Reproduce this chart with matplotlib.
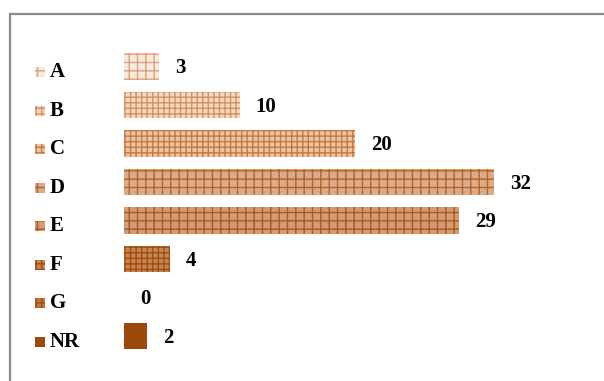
import matplotlib.pyplot as plt
from matplotlib.patches import Rectangle
from matplotlib.transforms import blended_transform_factory

categories = ["A", "B", "C", "D", "E", "F", "G", "NR"]
counts = [3, 10, 20, 32, 29, 4, 0, 2]

# fill, hatch pattern and hatch colour for each category
faces = ["#F8E9DE", "#F2D7C3", "#EAC5A8", "#DCAA86", "#D49C73", "#C98550", "#BF7540", "#9C4A0C"]
hatches = ["++", "+++", "+++", "++", "++", "+++", "+++", ""]
lines = ["#DDA27C", "#D6915F", "#C9793F", "#B2642B", "#A85A22", "#9E4E15", "#9E4E15", "#9C4A0C"]

W, H = 604, 381
fig = plt.figure(figsize=(W / 100, H / 100), dpi=100)
ax = fig.add_axes([124 / W, 1 - 355.25 / H, 474 / W, 308 / H])
ax.set_xlim(0, 41)
ax.set_ylim(len(categories) - 0.5, -0.5)
ax.axis("off")

serif = ["Liberation Serif", "DejaVu Serif"]

for i, (cat, v) in enumerate(zip(categories, counts)):
    ax.barh(i, v, height=0.69, color=faces[i], edgecolor=lines[i],
            hatch=hatches[i], linewidth=0)
    ax.text(v + 1.38, i + 0.04, str(v), ha="left", va="center",
            fontsize=15, fontweight="bold", family=serif)

# legend column on the left
tr = blended_transform_factory(ax.transAxes, ax.transData)
for i, cat in enumerate(categories):
    ax.add_patch(Rectangle((-89 / 474, i + 0.013), 10 / 474, 0.26,
                           transform=tr, clip_on=False, facecolor=faces[i],
                           edgecolor=lines[i], hatch=hatches[i], linewidth=0))
    ax.text(-74 / 474, i + 0.15, cat, transform=tr, ha="left", va="center",
            fontsize=15, fontweight="bold", family=serif)

# grey chart-area border (runs off the right and bottom edges)
fig.patches.append(Rectangle((9.5 / W, -0.2), 1.2, 1.2 - 13.5 / H,
                             transform=fig.transFigure, fill=False,
                             edgecolor="#8A8A8A", linewidth=1.6))

fig.savefig("out.png", dpi=100)
